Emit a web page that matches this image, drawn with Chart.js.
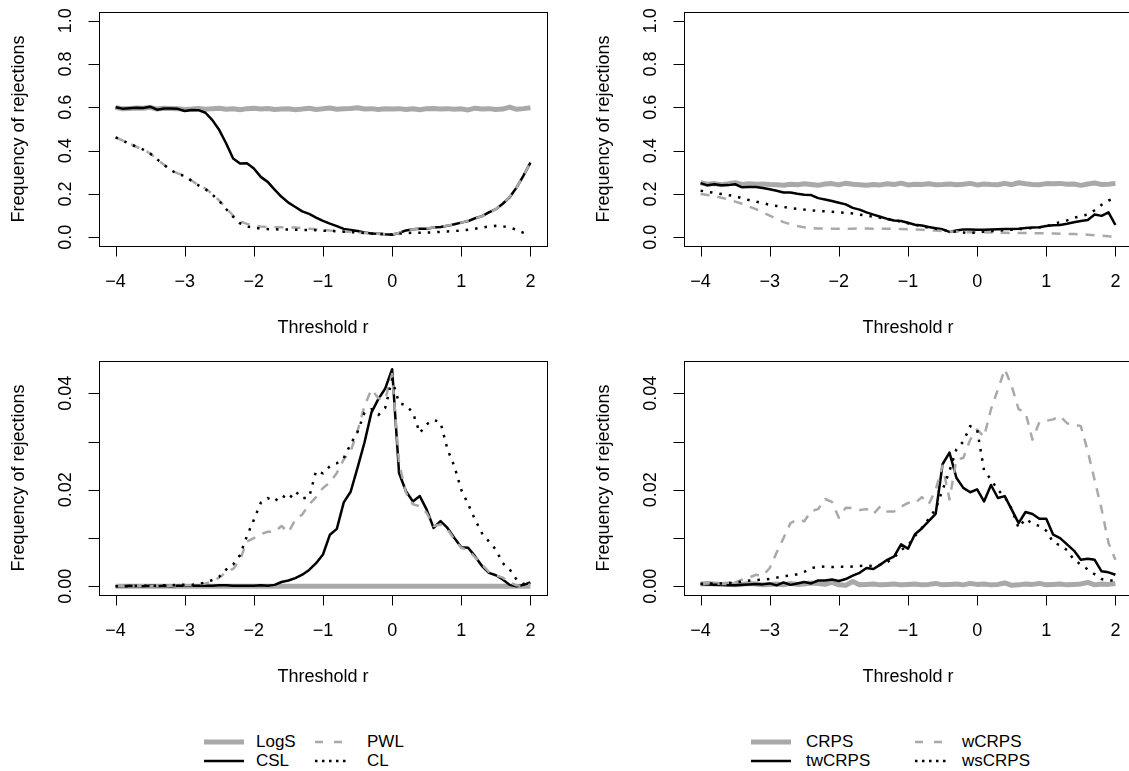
<!DOCTYPE html>
<html>
<head>
<meta charset="utf-8">
<script src="https://cdn.jsdelivr.net/npm/chart.js@4/dist/chart.umd.min.js"></script>
<style>
html, body { margin: 0; padding: 0; background: #fff; }
body { width: 1129px; height: 771px; position: relative; overflow: hidden;
       font-family: "Liberation Sans", Arial, Helvetica, sans-serif; }
canvas { position: absolute; }
.leg { position: absolute; font-size: 17px; line-height: 20px; color: #000; white-space: nowrap; }
.leg svg { position: absolute; }
</style>
</head>
<body>
<canvas id="logPanel" width="585" height="350" style="left:0;top:0"></canvas>
<canvas id="crpsPanel" width="585" height="350" style="left:585px;top:0"></canvas>
<canvas id="logPanelSmall" width="585" height="350" style="left:0;top:349px"></canvas>
<canvas id="crpsPanelSmall" width="585" height="350" style="left:585px;top:349px"></canvas>
<div id="legLeft"></div>
<div id="legRight"></div>

<script>
// thresholds r
const thresholds = [
  -4.0, -3.9, -3.8, -3.7, -3.6, -3.5, -3.4, -3.3, -3.2, -3.1, -3.0,
  -2.9, -2.8, -2.7, -2.6, -2.5, -2.4, -2.3, -2.2, -2.1, -2.0,
  -1.9, -1.8, -1.7, -1.6, -1.5, -1.4, -1.3, -1.2, -1.1, -1.0,
  -0.9, -0.8, -0.7, -0.6, -0.5, -0.4, -0.3, -0.2, -0.1, 0.0,
  0.1, 0.2, 0.3, 0.4, 0.5, 0.6, 0.7, 0.8, 0.9, 1.0,
  1.1, 1.2, 1.3, 1.4, 1.5, 1.6, 1.7, 1.8, 1.9, 2.0
];
const xTicks = [-4, -3, -2, -1, 0, 1, 2];
const yTicksTop = [0, 0.2, 0.4, 0.6, 0.8, 1.0];
const yLabelsTop = ['0.0', '0.2', '0.4', '0.6', '0.8', '1.0'];
const yTicksBottom = [0, 0.01, 0.02, 0.03, 0.04];
const yLabelsBottom = ['0.00', '', '0.02', '', '0.04'];

// top left
const logS = [
  0.600, 0.593, 0.595, 0.597, 0.596, 0.600, 0.592, 0.596, 0.595, 0.594, 0.590,
  0.592, 0.595, 0.591, 0.594, 0.596, 0.591, 0.593, 0.589, 0.594, 0.596,
  0.592, 0.595, 0.590, 0.592, 0.593, 0.589, 0.592, 0.596, 0.590, 0.593,
  0.597, 0.591, 0.593, 0.595, 0.598, 0.592, 0.594, 0.590, 0.593, 0.592,
  0.594, 0.590, 0.593, 0.589, 0.594, 0.595, 0.592, 0.594, 0.591, 0.593,
  0.588, 0.596, 0.592, 0.594, 0.590, 0.592, 0.601, 0.591, 0.594, 0.598
];
const csl = [
  0.600, 0.594, 0.596, 0.598, 0.597, 0.603, 0.589, 0.595, 0.595, 0.593, 0.583,
  0.588, 0.587, 0.575, 0.541, 0.495, 0.433, 0.364, 0.341, 0.342, 0.318,
  0.279, 0.256, 0.220, 0.187, 0.160, 0.140, 0.120, 0.108, 0.091, 0.076,
  0.063, 0.052, 0.039, 0.034, 0.029, 0.022, 0.018, 0.017, 0.014, 0.012,
  0.020, 0.032, 0.037, 0.040, 0.040, 0.045, 0.048, 0.053, 0.060, 0.068,
  0.075, 0.088, 0.098, 0.115, 0.130, 0.155, 0.185, 0.230, 0.285, 0.345
];
const pwl = [
  0.461, 0.447, 0.432, 0.418, 0.405, 0.387, 0.360, 0.335, 0.310, 0.295, 0.285,
  0.262, 0.240, 0.225, 0.200, 0.170, 0.135, 0.100, 0.075, 0.062, 0.055,
  0.050, 0.047, 0.047, 0.046, 0.045, 0.045, 0.043, 0.040, 0.037, 0.035,
  0.032, 0.030, 0.027, 0.025, 0.022, 0.020, 0.018, 0.016, 0.014, 0.013,
  0.020, 0.031, 0.037, 0.040, 0.041, 0.045, 0.048, 0.054, 0.060, 0.068,
  0.076, 0.087, 0.098, 0.113, 0.130, 0.155, 0.187, 0.230, 0.285, 0.345
];
const cl = [
  0.461, 0.447, 0.432, 0.418, 0.405, 0.387, 0.360, 0.335, 0.310, 0.292, 0.283,
  0.260, 0.240, 0.222, 0.197, 0.168, 0.130, 0.095, 0.065, 0.050, 0.045,
  0.040, 0.038, 0.037, 0.036, 0.036, 0.035, 0.034, 0.034, 0.033, 0.031,
  0.030, 0.028, 0.026, 0.024, 0.022, 0.020, 0.018, 0.016, 0.015, 0.013,
  0.017, 0.020, 0.021, 0.021, 0.022, 0.023, 0.025, 0.027, 0.029, 0.032,
  0.035, 0.040, 0.045, 0.050, 0.053, 0.051, 0.045, 0.035, 0.021, 0.012
];

// top right
const crps = [
  0.252, 0.245, 0.248, 0.243, 0.247, 0.252, 0.244, 0.247, 0.245, 0.246, 0.244,
  0.243, 0.240, 0.245, 0.243, 0.247, 0.244, 0.240, 0.246, 0.248, 0.242,
  0.250, 0.245, 0.243, 0.240, 0.244, 0.242, 0.247, 0.244, 0.250, 0.242,
  0.245, 0.244, 0.247, 0.243, 0.244, 0.246, 0.243, 0.245, 0.249, 0.242,
  0.246, 0.244, 0.243, 0.249, 0.243, 0.252, 0.247, 0.244, 0.243, 0.248,
  0.247, 0.249, 0.245, 0.246, 0.240, 0.246, 0.251, 0.244, 0.245, 0.249
];
const twCrps = [
  0.250, 0.240, 0.245, 0.240, 0.241, 0.245, 0.231, 0.232, 0.232, 0.228, 0.222,
  0.215, 0.207, 0.207, 0.201, 0.197, 0.195, 0.181, 0.175, 0.168, 0.160,
  0.152, 0.136, 0.128, 0.115, 0.105, 0.095, 0.085, 0.078, 0.075, 0.067,
  0.058, 0.055, 0.048, 0.042, 0.037, 0.025, 0.032, 0.036, 0.036, 0.035,
  0.035, 0.036, 0.037, 0.038, 0.039, 0.040, 0.043, 0.045, 0.047, 0.052,
  0.056, 0.057, 0.063, 0.070, 0.075, 0.080, 0.105, 0.099, 0.115, 0.057
];
const wCrps = [
  0.200, 0.195, 0.190, 0.183, 0.175, 0.165, 0.155, 0.142, 0.130, 0.115, 0.100,
  0.085, 0.070, 0.060, 0.052, 0.046, 0.043, 0.041, 0.040, 0.040, 0.040,
  0.040, 0.040, 0.041, 0.041, 0.040, 0.040, 0.040, 0.039, 0.038, 0.037,
  0.036, 0.035, 0.033, 0.031, 0.029, 0.027, 0.026, 0.025, 0.024, 0.023,
  0.023, 0.022, 0.022, 0.021, 0.020, 0.020, 0.020, 0.019, 0.019, 0.018,
  0.018, 0.017, 0.016, 0.015, 0.014, 0.012, 0.010, 0.008, 0.005, 0.003
];
const wsCrps = [
  0.215, 0.210, 0.205, 0.200, 0.195, 0.190, 0.180, 0.172, 0.165, 0.158, 0.150,
  0.145, 0.140, 0.135, 0.132, 0.128, 0.125, 0.122, 0.120, 0.118, 0.115,
  0.113, 0.110, 0.105, 0.100, 0.095, 0.090, 0.085, 0.080, 0.072, 0.065,
  0.058, 0.050, 0.045, 0.040, 0.035, 0.030, 0.025, 0.022, 0.018, 0.024,
  0.026, 0.028, 0.030, 0.033, 0.035, 0.038, 0.040, 0.043, 0.046, 0.050,
  0.062, 0.070, 0.078, 0.090, 0.098, 0.105, 0.125, 0.150, 0.170, 0.180
];

// bottom left
const logSSmall = [
  0, 0, 0, 0, 0, 0, 0, 0, 0, 0, 0,
  0, 0, 0, 0, 0, 0, 0, 0, 0, 0,
  0, 0, 0, 0, 0, 0, 0, 0, 0, 0,
  0, 0, 0, 0, 0, 0, 0, 0, 0, 0,
  0, 0, 0, 0, 0, 0, 0, 0, 0, 0,
  0, 0, 0, 0, 0, 0, 0, 0, 0, 0
];
const cslSmall = [
  0.0000, 0.0000, 0.0001, 0.0000, 0.0000, 0.0001, 0.0000, 0.0001, 0.0000, 0.0001, 0.0001,
  0.0001, 0.0001, 0.0001, 0.0001, 0.0002, 0.0002, 0.0001, 0.0001, 0.0001, 0.0001,
  0.0002, 0.0001, 0.0003, 0.0009, 0.0012, 0.0017, 0.0024, 0.0034, 0.0048, 0.0066,
  0.0107, 0.0119, 0.0174, 0.0196, 0.0246, 0.0298, 0.0360, 0.0388, 0.0410, 0.0450,
  0.0235, 0.0197, 0.0176, 0.0187, 0.0159, 0.0121, 0.0135, 0.0121, 0.0100, 0.0081,
  0.0080, 0.0062, 0.0042, 0.0028, 0.0023, 0.0014, 0.0003, 0.0000, 0.0003, 0.0008
];
const pwlSmall = [
  0.0000, 0.0000, 0.0000, 0.0000, 0.0000, 0.0000, 0.0000, 0.0001, 0.0001, 0.0001, 0.0002,
  0.0002, 0.0004, 0.0006, 0.0010, 0.0018, 0.0030, 0.0036, 0.0055, 0.0093, 0.0100,
  0.0108, 0.0113, 0.0113, 0.0125, 0.0112, 0.0138, 0.0149, 0.0170, 0.0185, 0.0204,
  0.0215, 0.0235, 0.0263, 0.0280, 0.0322, 0.0374, 0.0408, 0.0390, 0.0388, 0.0440,
  0.0256, 0.0194, 0.0170, 0.0166, 0.0152, 0.0125, 0.0128, 0.0118, 0.0097, 0.0080,
  0.0075, 0.0060, 0.0045, 0.0030, 0.0023, 0.0018, 0.0008, 0.0002, 0.0000, 0.0004
];
const clSmall = [
  0.0000, 0.0000, 0.0000, 0.0001, 0.0001, 0.0001, 0.0001, 0.0002, 0.0002, 0.0003, 0.0003,
  0.0003, 0.0005, 0.0008, 0.0013, 0.0020, 0.0035, 0.0045, 0.0065, 0.0104, 0.0138,
  0.0173, 0.0183, 0.0176, 0.0189, 0.0180, 0.0197, 0.0182, 0.0185, 0.0239, 0.0234,
  0.0249, 0.0255, 0.0266, 0.0295, 0.0320, 0.0360, 0.0367, 0.0355, 0.0370, 0.0429,
  0.0380, 0.0375, 0.0360, 0.0318, 0.0336, 0.0345, 0.0340, 0.0284, 0.0249, 0.0200,
  0.0170, 0.0138, 0.0110, 0.0093, 0.0076, 0.0048, 0.0035, 0.0014, 0.0005, 0.0003
];

// bottom right
const crpsSmall = [
  0.0005, 0.0006, 0.0005, 0.0004, 0.0005, 0.0003, 0.0004, 0.0006, 0.0005, 0.0003, 0.0004,
  0.0005, 0.0003, 0.0006, 0.0004, 0.0005, 0.0007, 0.0006, 0.0004, 0.0008, 0.0003,
  0.0002, 0.0010, 0.0003, 0.0004, 0.0005, 0.0003, 0.0004, 0.0005, 0.0003, 0.0004,
  0.0005, 0.0003, 0.0004, 0.0006, 0.0003, 0.0004, 0.0005, 0.0003, 0.0006, 0.0004,
  0.0005, 0.0003, 0.0004, 0.0007, 0.0002, 0.0003, 0.0005, 0.0004, 0.0006, 0.0003,
  0.0004, 0.0005, 0.0003, 0.0004, 0.0005, 0.0008, 0.0003, 0.0005, 0.0004, 0.0006
];
const twCrpsSmall = [
  0.0005, 0.0004, 0.0003, 0.0003, 0.0002, 0.0002, 0.0003, 0.0004, 0.0005, 0.0004, 0.0006,
  0.0002, 0.0008, 0.0003, 0.0006, 0.0009, 0.0006, 0.0012, 0.0012, 0.0014, 0.0011,
  0.0015, 0.0022, 0.0028, 0.0038, 0.0036, 0.0045, 0.0055, 0.0062, 0.0087, 0.0078,
  0.0108, 0.0120, 0.0135, 0.0150, 0.0253, 0.0277, 0.0225, 0.0204, 0.0195, 0.0201,
  0.0176, 0.0210, 0.0183, 0.0187, 0.0159, 0.0131, 0.0154, 0.0150, 0.0140, 0.0140,
  0.0107, 0.0100, 0.0087, 0.0074, 0.0055, 0.0057, 0.0055, 0.0031, 0.0029, 0.0024
];
const wCrpsSmall = [
  0.0005, 0.0006, 0.0006, 0.0005, 0.0005, 0.0008, 0.0014, 0.0018, 0.0024, 0.0022, 0.0038,
  0.0070, 0.0100, 0.0131, 0.0138, 0.0135, 0.0156, 0.0160, 0.0181, 0.0175, 0.0142,
  0.0163, 0.0162, 0.0158, 0.0160, 0.0150, 0.0166, 0.0155, 0.0155, 0.0165, 0.0173,
  0.0172, 0.0185, 0.0170, 0.0200, 0.0250, 0.0180, 0.0263, 0.0266, 0.0304, 0.0325,
  0.0310, 0.0367, 0.0408, 0.0450, 0.0415, 0.0367, 0.0360, 0.0304, 0.0340, 0.0343,
  0.0346, 0.0353, 0.0338, 0.0335, 0.0332, 0.0280, 0.0220, 0.0160, 0.0090, 0.0055
];
const wsCrpsSmall = [
  0.0005, 0.0006, 0.0006, 0.0006, 0.0007, 0.0008, 0.0010, 0.0012, 0.0013, 0.0014, 0.0015,
  0.0018, 0.0021, 0.0022, 0.0025, 0.0030, 0.0038, 0.0040, 0.0041, 0.0040, 0.0041,
  0.0040, 0.0041, 0.0042, 0.0043, 0.0042, 0.0045, 0.0050, 0.0060, 0.0075, 0.0085,
  0.0104, 0.0121, 0.0140, 0.0160, 0.0200, 0.0239, 0.0284, 0.0300, 0.0332, 0.0325,
  0.0240, 0.0221, 0.0200, 0.0185, 0.0160, 0.0121, 0.0140, 0.0130, 0.0125, 0.0115,
  0.0091, 0.0085, 0.0075, 0.0055, 0.0045, 0.0035, 0.0025, 0.0015, 0.0012, 0.0012
];

const FONT = '"Liberation Sans", Arial, Helvetica, sans-serif';
const GRAY = '#a9a9a9';

// line styles: thick gray, black solid, gray dashed, black dotted
const styles = {
  thick:  { borderColor: GRAY, borderWidth: 5, order: 4 },
  solid:  { borderColor: '#000', borderWidth: 2.5, order: 3 },
  dashed: { borderColor: GRAY, borderWidth: 2.5, borderDash: [9, 8], order: 2 },
  dotted: { borderColor: '#000', borderWidth: 2.5, borderDash: [2.5, 7], order: 1 }
};

// R-like box, outward ticks, rotated y labels and axis titles
const rAxes = {
  id: 'rAxes',
  afterDraw(chart, args, o) {
    const { ctx, chartArea: a, scales: { x, y } } = chart;
    const tick = 10.5;
    ctx.save();
    ctx.strokeStyle = '#000';
    ctx.fillStyle = '#000';
    ctx.lineWidth = 1;
    ctx.strokeRect(a.left + 0.5, a.top + 0.5, a.right - a.left, a.bottom - a.top);
    ctx.font = '18px ' + FONT;
    ctx.textAlign = 'center';
    ctx.textBaseline = 'middle';
    ctx.beginPath();
    xTicks.forEach(v => {
      const px = Math.round(x.getPixelForValue(v)) + 0.5;
      ctx.moveTo(px, a.bottom);
      ctx.lineTo(px, a.bottom + tick);
    });
    o.yTicks.forEach(v => {
      const py = Math.round(y.getPixelForValue(v)) + 0.5;
      ctx.moveTo(a.left, py);
      ctx.lineTo(a.left - tick, py);
    });
    ctx.stroke();
    xTicks.forEach(v => {
      const lbl = v < 0 ? '\u2212' + Math.abs(v) : String(v);
      ctx.fillText(lbl, x.getPixelForValue(v), a.bottom + 36);
    });
    o.yTicks.forEach((v, i) => {
      if (!o.yLabels[i]) return;
      ctx.save();
      ctx.translate(a.left - 33, y.getPixelForValue(v));
      ctx.rotate(-Math.PI / 2);
      ctx.fillText(o.yLabels[i], 0, 0);
      ctx.restore();
    });
    ctx.fillText('Threshold r', (a.left + a.right) / 2, a.bottom + 82);
    ctx.save();
    ctx.translate(a.left - 80, (a.top + a.bottom) / 2);
    ctx.rotate(-Math.PI / 2);
    ctx.fillText('Frequency of rejections', 0, 0);
    ctx.restore();
    ctx.restore();
  }
};

function panel(id, series, yMin, yMax, yTicks, yLabels) {
  const kinds = ['thick', 'solid', 'dashed', 'dotted'];
  new Chart(document.getElementById(id), {
    type: 'line',
    data: {
      datasets: series.map((vals, k) => ({
        data: thresholds.map((t, i) => ({ x: t, y: vals[i] })),
        fill: false,
        pointRadius: 0,
        tension: 0,
        borderCapStyle: 'butt',
        borderJoinStyle: 'round',
        ...styles[kinds[k]]
      }))
    },
    options: {
      responsive: false,
      animation: false,
      devicePixelRatio: 1,
      layout: { padding: { left: 99, right: 38, top: 12, bottom: 104 } },
      plugins: {
        legend: { display: false },
        tooltip: { enabled: false },
        rAxes: { yTicks, yLabels }
      },
      scales: {
        x: { type: 'linear', display: false, min: -4.24, max: 2.24 },
        y: { type: 'linear', display: false, min: yMin, max: yMax }
      }
    },
    plugins: [rAxes]
  });
}

panel('logPanel', [logS, csl, pwl, cl], -0.04, 1.04, yTicksTop, yLabelsTop);
panel('crpsPanel', [crps, twCrps, wCrps, wsCrps], -0.04, 1.04, yTicksTop, yLabelsTop);
panel('logPanelSmall', [logSSmall, cslSmall, pwlSmall, clSmall], -0.0018, 0.0467, yTicksBottom, yLabelsBottom);
panel('crpsPanelSmall', [crpsSmall, twCrpsSmall, wCrpsSmall, wsCrpsSmall], -0.0018, 0.0467, yTicksBottom, yLabelsBottom);

// legends: 2 x 2 grid; cols = [[sampleStart, sampleWidth, textStart], ...]
const legendDash = { dashed: '8 11', dotted: '2.5 4.5' };
function legend(id, names, cols) {
  const el = document.getElementById(id);
  const rows = [741.7, 761];
  const cells = [
    { kind: 'thick', name: names[0], r: 0, c: 0 },
    { kind: 'dashed', name: names[2], r: 0, c: 1 },
    { kind: 'solid', name: names[1], r: 1, c: 0 },
    { kind: 'dotted', name: names[3], r: 1, c: 1 }
  ];
  cells.forEach(cell => {
    const s = styles[cell.kind];
    const [sx, sw, tx] = cols[cell.c];
    const d = document.createElement('div');
    d.className = 'leg';
    d.style.left = sx + 'px';
    d.style.top = (rows[cell.r] - 10) + 'px';
    d.style.height = '20px';
    const dash = legendDash[cell.kind] ? ` stroke-dasharray="${legendDash[cell.kind]}"` : '';
    d.innerHTML = `<svg width="${sw}" height="20" style="left:0;top:0">` +
      `<line x1="0" y1="10" x2="${sw}" y2="10" stroke="${s.borderColor}" stroke-width="${s.borderWidth}"${dash}/></svg>` +
      `<span style="position:absolute;left:${tx - sx}px;top:0">${cell.name}</span>`;
    el.appendChild(d);
  });
}
legend('legLeft', ['LogS', 'CSL', 'PWL', 'CL'], [[204, 40, 256], [315, 31, 367]]);
legend('legRight', ['CRPS', 'twCRPS', 'wCRPS', 'wsCRPS'], [[751, 40, 806], [915, 31, 962]]);
</script>
</body>
</html>
